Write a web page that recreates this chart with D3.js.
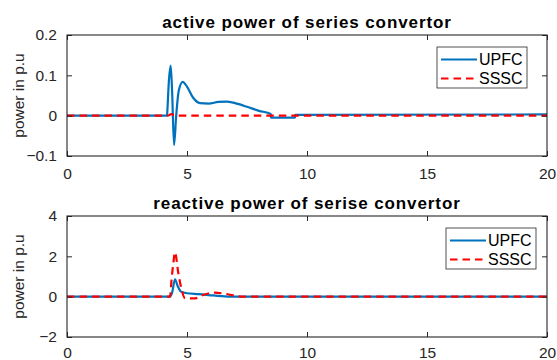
<!DOCTYPE html>
<html>
<head>
<meta charset="utf-8">
<script src="https://cdn.jsdelivr.net/npm/d3@7"></script>
<style>
  body { margin: 0; background: #fff; }
  text { font-family: "Liberation Sans", Arial, sans-serif; }
</style>
</head>
<body>
<script>
// time axis ticks
const xTicks = [0, 5, 10, 15, 20];

// active power of series convertor
const activeTicks = [-0.1, 0, 0.1, 0.2];
const upfcActiveT = [0, 4.17, 4.18, 4.25, 4.32, 4.38, 4.46, 4.55, 4.65, 4.82, 5.0, 5.25, 5.54, 5.9, 6.3, 6.65, 7.0, 7.5, 8.0, 8.49, 8.5, 9.5, 9.51, 20];
const upfcActiveV = [0, 0, 0.01, 0.09, 0.124, 0.06, -0.073, 0.0, 0.06, 0.084, 0.072, 0.045, 0.031, 0.03, 0.034, 0.035, 0.031, 0.022, 0.012, 0.004, -0.005, -0.005, 0.002, 0.003];
const ssscActiveT = [0, 4.2, 4.35, 4.5, 20];
const ssscActiveV = [0, 0, 0.004, 0, 0];

// reactive power of serise convertor
const reactiveTicks = [-2, 0, 2, 4];
const upfcReactT = [0, 4.29, 4.38, 4.5, 4.62, 4.75, 5.0, 5.5, 6.1, 6.8, 20];
const upfcReactV = [0, 0, 0.2, 0.86, 0.5, 0.25, 0.17, 0.13, 0.06, 0, 0];
const ssscReactT = [0, 4.29, 4.36, 4.43, 4.5, 4.64, 4.78, 4.92, 5.35, 5.6, 6.15, 6.7, 7.3, 20];
const ssscReactV = [0, 0, 0.9, 1.65, 2.2, 1.16, 0.33, -0.08, -0.08, 0.05, 0.2, 0.12, 0, 0];

const seriesNames = ["UPFC", "SSSC"];

const W = 557, H = 360;
const BLUE = "#0072BD", RED = "#FF0000", INK = "#262626";

const svg = d3.select("body").append("svg")
    .attr("width", W)
    .attr("height", H);

const zip = (ts, vs) => ts.map((t, i) => ({t: t, v: vs[i]}));

function drawPanel(cfg, idx){
    const x = d3.scaleLinear().domain([0, 20]).range([67, 547]);
    const y = d3.scaleLinear().domain(cfg.domain).range([cfg.bottom, cfg.top]);
    const g = svg.append("g");

    const clipId = "clip" + idx;
    svg.append("clipPath").attr("id", clipId)
        .append("rect")
        .attr("x", 67).attr("y", cfg.top)
        .attr("width", 480).attr("height", cfg.bottom - cfg.top);

    const line = d3.line()
        .x(d => x(d.t))
        .y(d => y(d.v))
        .curve(d3.curveMonotoneX);

    const plot = g.append("g").attr("clip-path", "url(#" + clipId + ")");
    plot.append("path")
        .datum(zip(cfg.upfcT, cfg.upfcV))
        .attr("d", line)
        .attr("fill", "none")
        .attr("stroke", BLUE)
        .attr("stroke-width", 2.2);
    plot.append("path")
        .datum(zip(cfg.ssscT, cfg.ssscV))
        .attr("d", line)
        .attr("fill", "none")
        .attr("stroke", RED)
        .attr("stroke-width", 2.2)
        .attr("stroke-dasharray", "7.5,5");

    //axes: ticks inward on all four sides
    const bottomAxis = d3.axisBottom(x).tickValues(xTicks).tickSize(-5).tickPadding(cfg.xPad).tickFormat(d3.format("d"));
    const topAxis = d3.axisTop(x).tickValues(xTicks).tickSize(-5).tickFormat("");
    const leftAxis = d3.axisLeft(y).tickValues(cfg.ticks).tickSize(-5).tickPadding(10).tickFormat(cfg.fmt);
    const rightAxis = d3.axisRight(y).tickValues(cfg.ticks).tickSize(-5).tickFormat("");

    const axes = [
        [bottomAxis, "translate(0," + cfg.bottom + ")"],
        [topAxis, "translate(0," + cfg.top + ")"],
        [leftAxis, "translate(67,0)"],
        [rightAxis, "translate(547,0)"]
    ];
    for (const [ax, tr] of axes){
        const a = g.append("g").attr("transform", tr).call(ax);
        a.select("path.domain").remove();
        a.selectAll(".tick line").attr("stroke", INK);
        a.selectAll(".tick text").attr("fill", INK).attr("font-size", 15.5)
            .attr("font-family", "'Liberation Sans', Arial, sans-serif");
    }
    //box outline
    g.append("rect")
        .attr("x", 67).attr("y", cfg.top)
        .attr("width", 480).attr("height", cfg.bottom - cfg.top)
        .attr("fill", "none").attr("stroke", INK).attr("stroke-width", 1.1);

    g.append("text")
        .attr("x", 307).attr("y", cfg.top - 7.5)
        .attr("text-anchor", "middle")
        .attr("font-size", 17).attr("font-weight", "bold")
        .attr("letter-spacing", 0.9)
        .attr("fill", "#000")
        .text(cfg.title);

    g.append("text")
        .attr("transform", "translate(24," + ((cfg.top + cfg.bottom) / 2) + ") rotate(-90)")
        .attr("text-anchor", "middle")
        .attr("font-size", 15.5)
        .attr("fill", INK)
        .text("power in p.u");

    //legend
    const lg = g.append("g").attr("transform", "translate(" + cfg.legX + "," + cfg.legY + ")");
    lg.append("rect")
        .attr("width", 90).attr("height", 41)
        .attr("fill", "#fff").attr("stroke", INK).attr("stroke-width", 0.8);
    seriesNames.forEach((name, i) => {
        const yy = 12.5 + i * 19;
        lg.append("line")
            .attr("x1", 4).attr("x2", 40)
            .attr("y1", yy).attr("y2", yy)
            .attr("stroke", i === 0 ? BLUE : RED)
            .attr("stroke-width", 2.2)
            .attr("stroke-dasharray", i === 0 ? null : "7.5,5");
        lg.append("text")
            .attr("x", 42).attr("y", yy + 5.5)
            .attr("font-size", 16)
            .attr("fill", "#000")
            .text(name);
    });
}

drawPanel({
    top: 35, bottom: 156, domain: [-0.1, 0.2], ticks: activeTicks, xPad: 12,
    fmt: d => d === 0 ? "0" : d3.format(".1f")(d),
    upfcT: upfcActiveT, upfcV: upfcActiveV, ssscT: ssscActiveT, ssscV: ssscActiveV,
    title: "active power of series convertor", legX: 437, legY: 47
}, 0);

drawPanel({
    top: 216, bottom: 337, domain: [-2, 4], ticks: reactiveTicks, xPad: 10,
    fmt: d3.format("d"),
    upfcT: upfcReactT, upfcV: upfcReactV, ssscT: ssscReactT, ssscV: ssscReactV,
    title: "reactive power of serise convertor", legX: 446, legY: 228
}, 1);
</script>
</body>
</html>
